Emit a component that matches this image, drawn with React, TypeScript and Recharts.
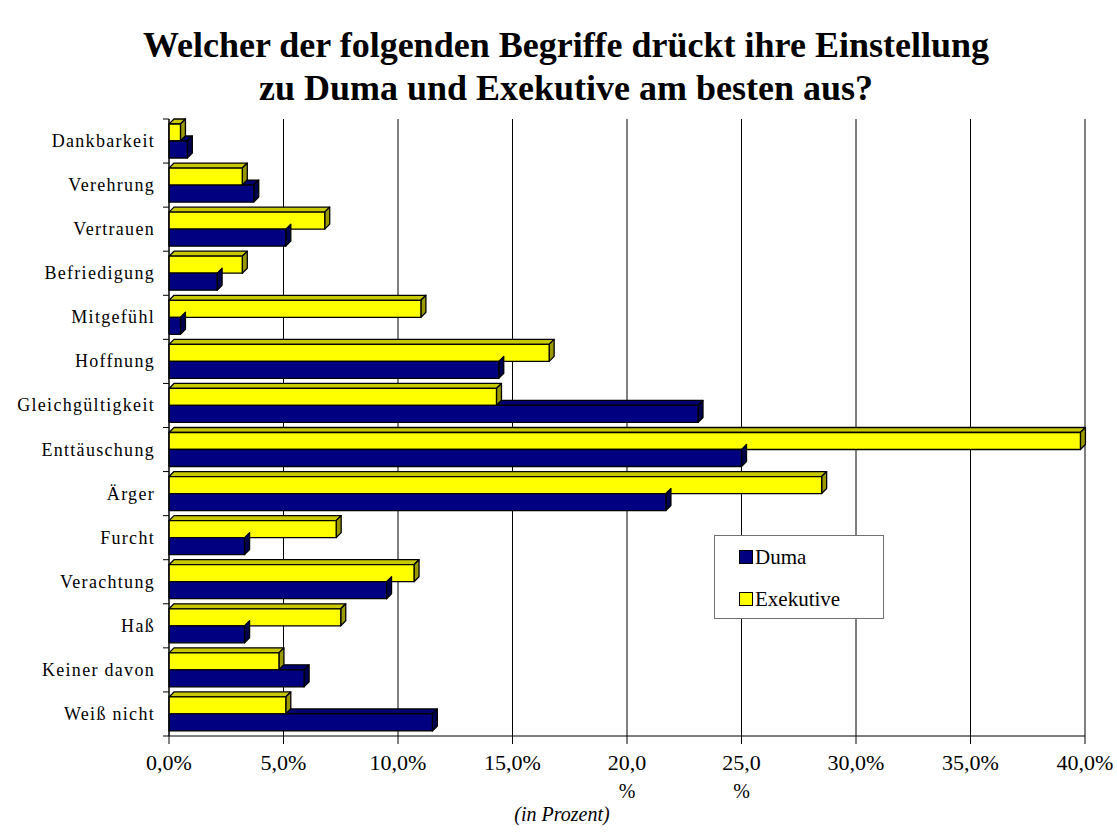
import React from "react"
import { BarChart, Bar, XAxis, YAxis, CartesianGrid } from "recharts"

const categories = [
  "Dankbarkeit",
  "Verehrung",
  "Vertrauen",
  "Befriedigung",
  "Mitgefühl",
  "Hoffnung",
  "Gleichgültigkeit",
  "Enttäuschung",
  "Ärger",
  "Furcht",
  "Verachtung",
  "Haß",
  "Keiner davon",
  "Weiß nicht",
]
const exekutive = [0.5, 3.2, 6.8, 3.2, 11.0, 16.6, 14.3, 39.8, 28.5, 7.3, 10.7, 7.5, 4.8, 5.1]
const duma = [0.8, 3.7, 5.1, 2.1, 0.5, 14.4, 23.1, 25.0, 21.7, 3.3, 9.5, 3.3, 5.9, 11.5]
const xTicks = [0, 5, 10, 15, 20, 25, 30, 35, 40]

const data = categories.map((name, i) => ({ name, exekutive: exekutive[i], duma: duma[i] }))

const W = 1117
const H = 832
const TOP = 119
const BOTTOM = 96
const LEFT = 169
const BAND = (H - TOP - BOTTOM) / categories.length
const DEPTH = 5
const FONT = '"Liberation Serif", "DejaVu Serif", "Noto Serif", "Times New Roman", Times, serif'

const YELLOW = { front: "#FFFF00", top: "#C8C800", side: "#9A9A00" }
const NAVY = { front: "#000080", top: "#00006E", side: "#000050" }

function face(pts: number[][]) {
  return pts.map((p) => p.join(",")).join(" ")
}

// front rect + top and right faces, like the old 3D office charts
function Box3D({ x, y, width, height, c, topFrom }: any) {
  const d = DEPTH
  const sx = x + (topFrom ?? 0)
  return (
    <g stroke="#000" strokeWidth={1.3} strokeLinejoin="round">
      {sx < x + width && (
        <polygon
          points={face([[sx, y], [sx + d, y - d], [x + width + d, y - d], [x + width, y]])}
          fill={c.top}
        />
      )}
      <polygon
        points={face([[x + width, y], [x + width + d, y - d], [x + width + d, y + height - d], [x + width, y + height]])}
        fill={c.side}
      />
      <rect x={x} y={y} width={width} height={height} fill={c.front} />
    </g>
  )
}

function ExekShape(props: any) {
  return <Box3D {...props} c={YELLOW} />
}

function DumaShape(props: any) {
  const { width, payload } = props
  // the top face is hidden behind the yellow bar except where duma is longer
  const ratio = payload.duma > 0 ? payload.exekutive / payload.duma : 0
  const from = Math.min(width, width * ratio)
  return <Box3D {...props} c={NAVY} topFrom={from} />
}

function CategoryTick({ y, payload, index }: any) {
  return (
    <g>
      <line x1={LEFT - 6} x2={LEFT} y1={y - BAND / 2} y2={y - BAND / 2} stroke="#000" />
      {index === categories.length - 1 && (
        <line x1={LEFT - 6} x2={LEFT} y1={y + BAND / 2} y2={y + BAND / 2} stroke="#000" />
      )}
      <text
        x={LEFT - 14}
        y={y + 6}
        textAnchor="end"
        fontFamily={FONT}
        fontSize={18}
        letterSpacing={1.3}
        fill="#000"
      >
        {payload.value}
      </text>
    </g>
  )
}

function PercentTick({ x, y, payload }: any) {
  const v = payload.value as number
  const txt = v.toFixed(1).replace(".", ",")
  const wrap = v === 20 || v === 25
  return (
    <g fontFamily={FONT} fontSize={22} fill="#000">
      <text x={x} y={y + 24} textAnchor="middle">
        {wrap ? txt : txt + "%"}
      </text>
      {wrap && (
        <text x={x} y={y + 52} textAnchor="middle" fontSize={20}>
          %
        </text>
      )}
    </g>
  )
}

function LegendBox() {
  const item = (c: string, label: string) => (
    <div style={{ display: "flex", alignItems: "center", height: 42 }}>
      <span
        style={{
          display: "inline-block",
          width: 12,
          height: 12,
          background: c,
          border: "1px solid #000",
          marginRight: 2,
        }}
      />
      <span>{label}</span>
    </div>
  )
  return (
    <div
      style={{
        position: "absolute",
        left: 714,
        top: 535,
        width: 170,
        height: 84,
        border: "1px solid #707070",
        background: "#fff",
        boxSizing: "border-box",
        padding: "0 0 0 24px",
        fontFamily: FONT,
        fontSize: 21,
        color: "#000",
        lineHeight: 1,
      }}
    >
      {item(NAVY.front, "Duma")}
      {item(YELLOW.front, "Exekutive")}
    </div>
  )
}

export default function App() {
  return (
    <div style={{ position: "absolute", left: 0, top: 0, width: W, height: H, background: "#fff" }}>
      <div
        style={{
          position: "absolute",
          left: 0,
          top: 24,
          width: 1132,
          textAlign: "center",
          fontFamily: FONT,
          fontWeight: "bold",
          fontSize: 36,
          lineHeight: "43px",
          color: "#000",
        }}
      >
        Welcher der folgenden Begriffe drückt ihre Einstellung
        <br />
        zu Duma und Exekutive am besten aus?
      </div>

      <BarChart
        width={W}
        height={H}
        data={data}
        layout="vertical"
        margin={{ top: TOP, right: 32, left: 0, bottom: 0 }}
        barSize={17}
        barGap={0}
        style={{ position: "absolute", left: 0, top: 0 }}
      >
        <CartesianGrid horizontal={false} stroke="#000" strokeWidth={1} />
        <XAxis
          type="number"
          domain={[0, 40]}
          ticks={xTicks}
          interval={0}
          height={BOTTOM}
          axisLine={{ stroke: "#000" }}
          tickLine={{ stroke: "#000" }}
          tickSize={8}
          tick={<PercentTick />}
        />
        <YAxis
          type="category"
          dataKey="name"
          width={LEFT}
          interval={0}
          axisLine={{ stroke: "#000" }}
          tickLine={false}
          tick={<CategoryTick />}
        />
        <Bar dataKey="exekutive" name="Exekutive" fill={YELLOW.front} shape={<ExekShape />} isAnimationActive={false} />
        <Bar dataKey="duma" name="Duma" fill={NAVY.front} shape={<DumaShape />} isAnimationActive={false} />
      </BarChart>

      <LegendBox />

      <div
        style={{
          position: "absolute",
          left: 462,
          top: 804,
          width: 200,
          textAlign: "center",
          fontFamily: FONT,
          fontStyle: "italic",
          fontSize: 20,
          lineHeight: 1,
          color: "#000",
        }}
      >
        (in Prozent)
      </div>
    </div>
  )
}
